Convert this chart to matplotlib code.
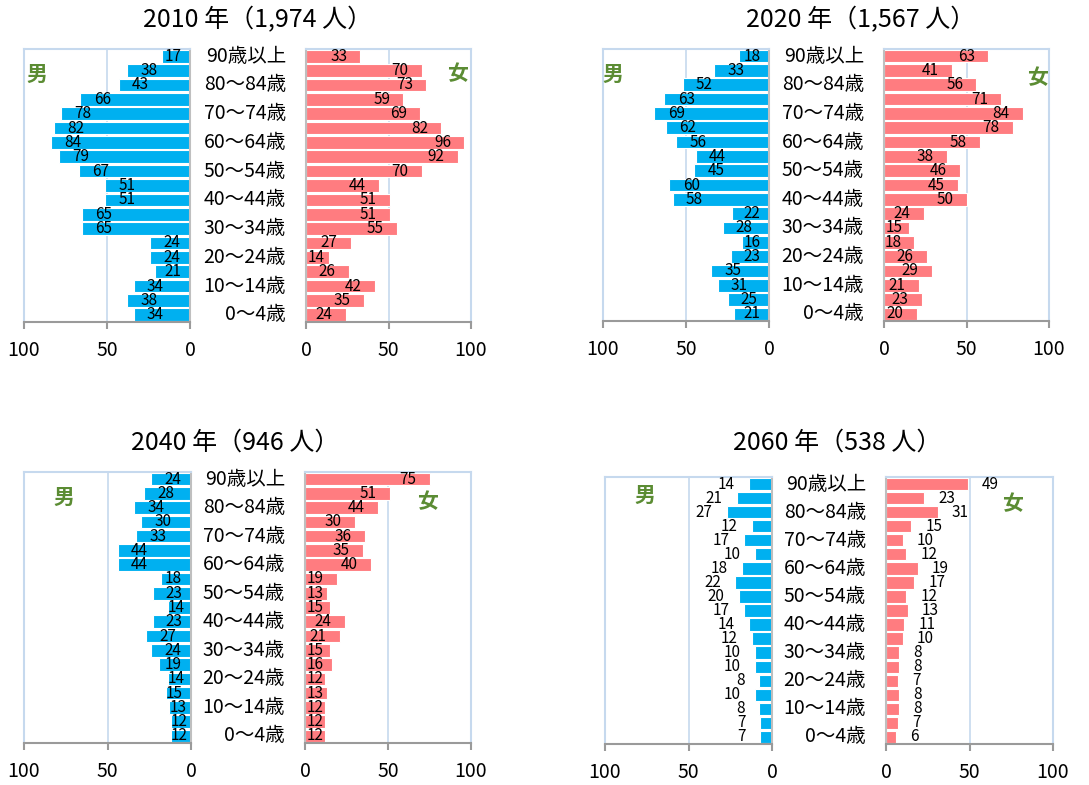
"""Population pyramids for 2010 / 2020 / 2040 / 2060 (male left, female right)."""

import matplotlib

matplotlib.use("Agg")
import matplotlib.pyplot as plt
import numpy as np

plt.rcParams["font.family"] = ["Noto Sans CJK JP", "DejaVu Sans"]

# age rows, top (90+) to bottom (0-4); only every other row is labelled
AGE_LABELS = [
    "90歳以上", "", "80～84歳", "", "70～74歳", "", "60～64歳", "", "50～54歳", "",
    "40～44歳", "", "30～34歳", "", "20～24歳", "", "10～14歳", "", "0～4歳",
]

YEARS = [2010, 2020, 2040, 2060]
TOTALS = ["1,974", "1,567", "946", "538"]

MALE_2010 = [17, 38, 43, 66, 78, 82, 84, 79, 67, 51, 51, 65, 65, 24, 24, 21, 34, 38, 34]
FEMALE_2010 = [33, 70, 73, 59, 69, 82, 96, 92, 70, 44, 51, 51, 55, 27, 14, 26, 42, 35, 24]
MALE_2020 = [18, 33, 52, 63, 69, 62, 56, 44, 45, 60, 58, 22, 28, 16, 23, 35, 31, 25, 21]
FEMALE_2020 = [63, 41, 56, 71, 84, 78, 58, 38, 46, 45, 50, 24, 15, 18, 26, 29, 21, 23, 20]
MALE_2040 = [24, 28, 34, 30, 33, 44, 44, 18, 23, 14, 23, 27, 24, 19, 14, 15, 13, 12, 12]
FEMALE_2040 = [75, 51, 44, 30, 36, 35, 40, 19, 13, 15, 24, 21, 15, 16, 12, 13, 12, 12, 12]
MALE_2060 = [14, 21, 27, 12, 17, 10, 18, 22, 20, 17, 14, 12, 10, 10, 8, 10, 8, 7, 7]
FEMALE_2060 = [49, 23, 31, 15, 10, 12, 19, 17, 12, 13, 11, 10, 8, 8, 7, 8, 8, 7, 6]

MALE = [MALE_2010, MALE_2020, MALE_2040, MALE_2060]
FEMALE = [FEMALE_2010, FEMALE_2020, FEMALE_2040, FEMALE_2060]

BLUE = "#00B0F0"
PINK = "#FF7C80"
GREEN = "#5B8C33"
FRAME = "#C6D9EE"
AXIS_GRAY = "#9A9A9A"

W, H = 1089, 785

# pixel layout per panel: male x-span, female x-span, y-span, title centre,
# 男 / 女 positions (axes fraction), labels outside the bars or not
PANELS = [
    dict(male=(24, 190), female=(306, 471), y=(49, 322), title=(258, 20),
         m_lab=(0.08, 0.905), f_lab=(0.915, 0.91), outside=False),
    dict(male=(603, 769), female=(884, 1049), y=(49, 321), title=(861, 20),
         m_lab=(0.06, 0.905), f_lab=(0.93, 0.895), outside=False),
    dict(male=(24, 191), female=(305, 471), y=(472, 743), title=(235, 443),
         m_lab=(0.24, 0.905), f_lab=(0.74, 0.89), outside=False),
    dict(male=(605, 772), female=(886, 1053), y=(477, 744), title=(837, 443),
         m_lab=(0.24, 0.93), f_lab=(0.76, 0.9), outside=True),
]


def _axes_at(fig, xspan, yspan):
    x0, x1 = xspan
    y0, y1 = yspan
    return fig.add_axes([x0 / W, 1 - y1 / H, (x1 - x0) / W, (y1 - y0) / H])


def _style(ax, inner_side):
    ax.set_xlim(0, 100)
    ax.set_ylim(len(AGE_LABELS) - 0.5, -0.5)
    ax.set_yticks([])
    ax.set_xticks([0, 50, 100])
    ax.axvline(50, color=FRAME, lw=1.2, zorder=0)
    for side in ("top", "left", "right"):
        ax.spines[side].set_color(FRAME)
        ax.spines[side].set_linewidth(1.5)
    ax.spines[inner_side].set_color("#BFBFBF")
    ax.spines["bottom"].set_color(AXIS_GRAY)
    ax.spines["bottom"].set_linewidth(1.5)
    ax.tick_params(axis="x", direction="out", length=5, width=1.5, color=AXIS_GRAY,
                   labelsize=14, pad=8)


def draw_panel(fig, spec, year, total, male, female):
    ax_m = _axes_at(fig, spec["male"], spec["y"])
    ax_f = _axes_at(fig, spec["female"], spec["y"])
    _style(ax_m, "right")
    _style(ax_f, "left")
    ax_m.invert_xaxis()

    rows = np.arange(len(AGE_LABELS))
    ax_m.barh(rows, male, height=0.88, color=BLUE, edgecolor="white", linewidth=0.8, zorder=2)
    ax_f.barh(rows, female, height=0.88, color=PINK, edgecolor="white", linewidth=0.8, zorder=2)

    for r, (vm, vf) in enumerate(zip(male, female)):
        if spec["outside"]:
            ax_m.text(vm + 8.5, r, str(vm), ha="right", va="center", fontsize=11, zorder=3)
            ax_f.text(vf + 8.5, r, str(vf), ha="left", va="center", fontsize=11, zorder=3)
        else:
            xm = max(vm - 8, min(vm, 15.5))
            xf = max(vf - 8, min(vf, 11))
            ax_m.text(xm, r, str(vm), ha="left", va="center", fontsize=11, zorder=3)
            ax_f.text(xf, r, str(vf), ha="right", va="center", fontsize=11, zorder=3)

    for r, lab in enumerate(AGE_LABELS):
        if lab:
            ax_f.annotate(lab, xy=(0, r), xycoords="data", xytext=(-20, 0),
                          textcoords="offset pixels", ha="right", va="center",
                          fontsize=14, annotation_clip=False)

    ax_m.text(*spec["m_lab"], "男", transform=ax_m.transAxes, color=GREEN,
              fontsize=15, fontweight="bold", ha="center", va="center")
    ax_f.text(*spec["f_lab"], "女", transform=ax_f.transAxes, color=GREEN,
              fontsize=15, fontweight="bold", ha="center", va="center")

    tx, ty = spec["title"]
    fig.text(tx / W, 1 - ty / H, f"{year} 年（{total} 人）", ha="center", va="center",
             fontsize=18)


fig = plt.figure(figsize=(W / 100, H / 100), dpi=100)
for spec, year, total, male, female in zip(PANELS, YEARS, TOTALS, MALE, FEMALE):
    draw_panel(fig, spec, year, total, male, female)

fig.savefig("out.png", dpi=100)
